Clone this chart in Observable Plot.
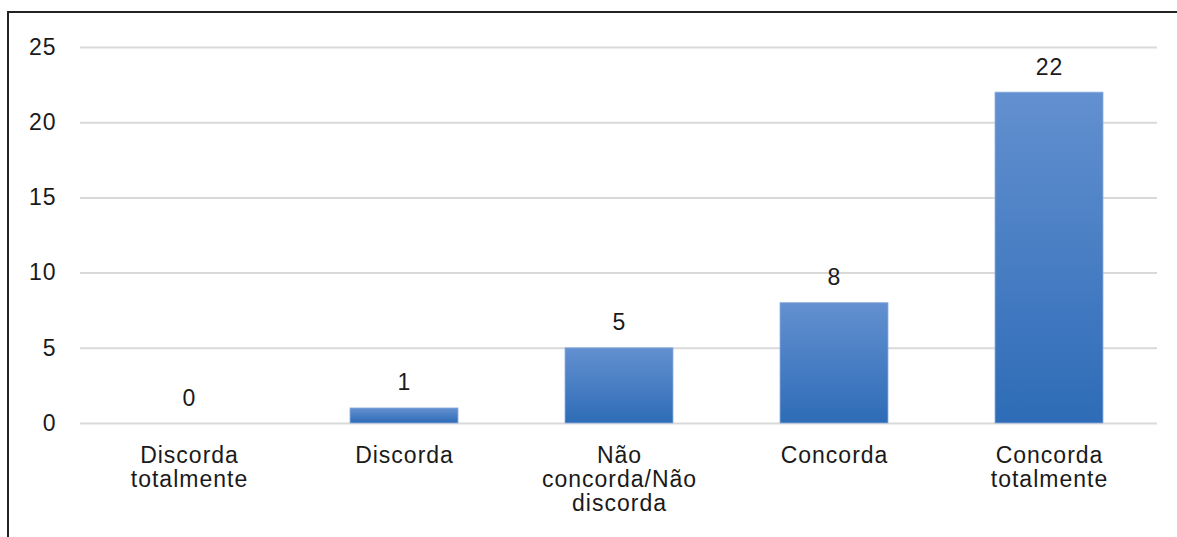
<!DOCTYPE html>
<html>
<head>
<meta charset="utf-8">
<script src="https://cdn.jsdelivr.net/npm/d3@7"></script>
<script src="https://cdn.jsdelivr.net/npm/@observablehq/plot@0.6"></script>
<style>
  html, body { margin: 0; padding: 0; background: #fff; overflow: hidden; }
  #wrap { position: relative; width: 1177px; height: 537px; }
  #frame { position: absolute; left: 7px; top: 11px; right: -4px; bottom: -4px;
           border-left: 2px solid #222; border-top: 2px solid #222; pointer-events: none; }
  svg { display: block; }
</style>
</head>
<body>
<div id="wrap"><div id="frame"></div></div>
<script>
const categories = ["Discorda\ntotalmente", "Discorda", "Não\nconcorda/Não\ndiscorda", "Concorda", "Concorda\ntotalmente"];
const values = [0, 1, 5, 8, 22];
const yTicks = [0, 5, 10, 15, 20, 25];

const data = categories.map((c, i) => ({category: c, value: values[i]}));

const chart = Plot.plot({
  width: 1177,
  height: 537,
  marginLeft: 80,
  marginRight: 20,
  marginTop: 47,
  marginBottom: 114,
  style: {fontFamily: "'Liberation Sans', Arial, sans-serif", fontSize: "23px", letterSpacing: "1px", color: "#1a1a1a", background: "transparent"},
  x: {domain: categories, paddingInner: 0.5, paddingOuter: 0.25, label: null},
  y: {domain: [0, 25], label: null},
  marks: [
    () => {
      const ns = "http://www.w3.org/2000/svg";
      const defs = document.createElementNS(ns, "defs");
      defs.innerHTML = `<linearGradient id="barGrad" x1="0" y1="0" x2="0" y2="1">
        <stop offset="0" stop-color="#6390d0"/>
        <stop offset="1" stop-color="#2e6cb7"/></linearGradient>`;
      return defs;
    },
    Plot.ruleY(yTicks, {stroke: "#d9d9d9", strokeWidth: 2}),
    Plot.barY(data, {x: "category", y: "value", fill: "url(#barGrad)", stroke: "#8fb0de", strokeWidth: 0.8}),
    Plot.text(data, {x: "category", y: "value", text: d => String(d.value), dy: -18, lineAnchor: "bottom", fontSize: 23, fill: "#1a1a1a"}),
    Plot.axisY({ticks: yTicks, tickSize: 0, tickPadding: 24, fontSize: 23, label: null}),
    Plot.axisX({tickSize: 0, tickPadding: 22, fontSize: 23, lineHeight: 1.05, label: null})
  ]
});

document.getElementById("wrap").insertBefore(chart, document.getElementById("frame"));
</script>
</body>
</html>
